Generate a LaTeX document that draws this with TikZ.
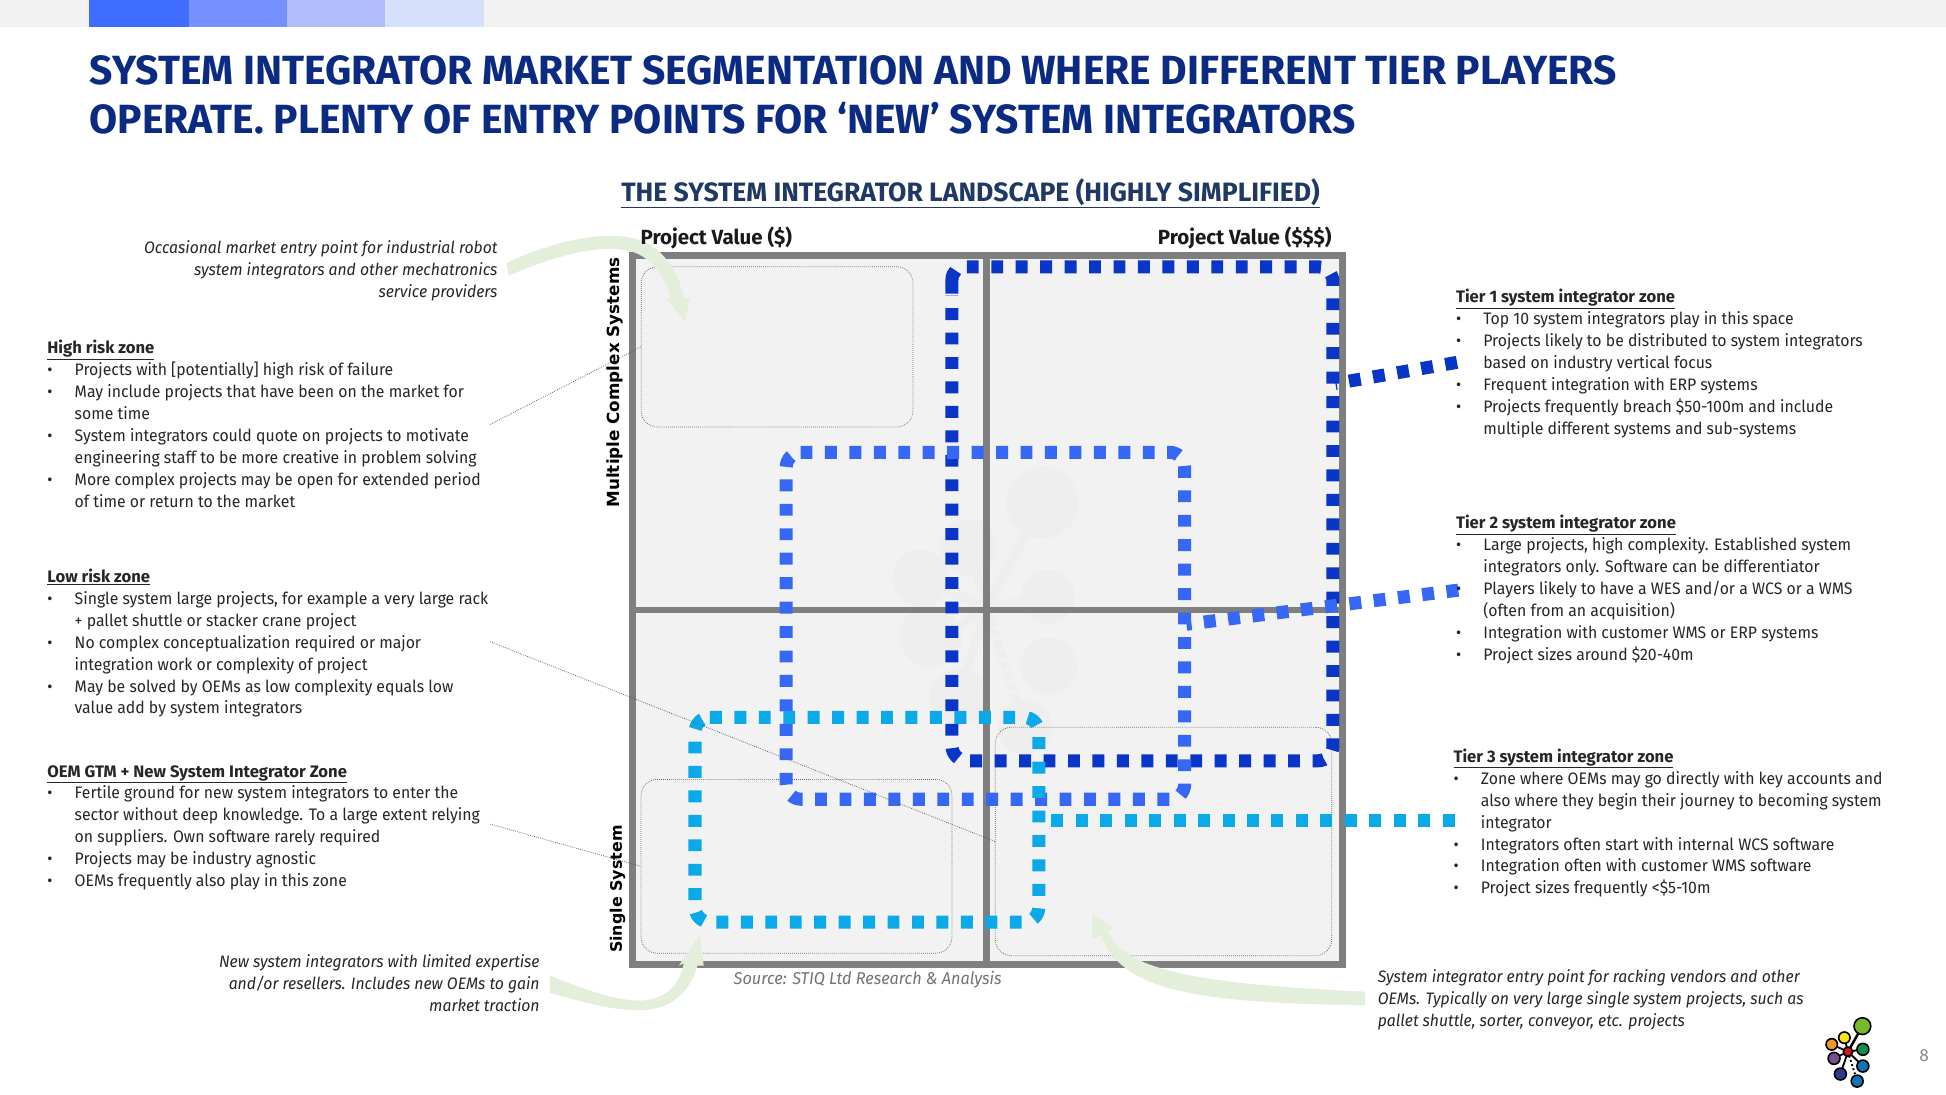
\documentclass[tikz,border=0pt]{standalone}
\usepackage{fontspec}
\setmainfont{Fira Sans}
\newfontfamily\bodyf[FakeStretch=0.95]{Fira Sans}
\newfontfamily\axisf{DejaVu Sans}
\usetikzlibrary{arrows.meta}
\definecolor{tone}{HTML}{0A36C8}
\definecolor{ttwo}{HTML}{3768F5}
\definecolor{tthree}{HTML}{0BA9E8}
\definecolor{titleblue}{HTML}{0B2A82}
\definecolor{subblue}{HTML}{1F3864}
\definecolor{panel}{HTML}{F2F2F2}
\definecolor{frameg}{HTML}{7F7F7F}
\definecolor{arrowg}{HTML}{E3EFDB}
\definecolor{wm}{HTML}{EDEEED}
\definecolor{ba}{HTML}{3F6DFF}\definecolor{bb}{HTML}{7590FF}\definecolor{bc}{HTML}{AFBDFB}\definecolor{bd}{HTML}{D5E1FA}
\definecolor{lga}{HTML}{7AB82E}\definecolor{lgb}{HTML}{F7E51A}\definecolor{lgc}{HTML}{EE9A1E}\definecolor{lgd}{HTML}{7A4E93}\definecolor{lge}{HTML}{2E3A8E}\definecolor{lgf}{HTML}{0F74B8}\definecolor{lgg}{HTML}{0E9146}\definecolor{lgh}{HTML}{D8122A}
\newcommand{\bu}[1]{\makebox[22pt][l]{•}#1}
\newcommand{\cn}[1]{\hspace*{22pt}#1}
\newcommand{\hd}[1]{\strut{\normalfont\bfseries\fontsize{13.4}{17.7}\selectfont\underline{#1}}}
\tikzset{
  body/.style={anchor=north west,inner sep=0pt,align=left,font=\bodyf\fontsize{13.4}{17.7}\selectfont,text=black!85},
  note/.style={inner sep=0pt,font=\bodyf\itshape\fontsize{13.35}{17.7}\selectfont,text=black!85},
  zonebox/.style={draw=black!60,densely dotted,line width=0.6pt,rounded corners=13pt,inner sep=0pt},
  zoneline/.style={line width=10.5pt,dash pattern=on 9.6pt off 10.1pt,rounded corners=12pt},
  leader/.style={draw=black!65,densely dotted,line width=0.6pt},
  gridline/.style={draw=frameg,line width=5.5pt},
  logolink/.style={line width=1.5pt,draw=black},
  logonode/.style={circle,draw=black,line width=1.3pt,inner sep=0pt},
  wmnode/.style={circle,fill=wm,inner sep=0pt}
}
\begin{document}
\begin{tikzpicture}[x=1pt,y=-1pt]
\useasboundingbox (0,0) rectangle (1568,882.3);
\fill[white] (0,0) rectangle (1568,882.3);
% top band
\fill[panel] (0,0) rectangle (1568,22);
\fill[ba] (72,0) rectangle (152,22);
\fill[bb] (152,0) rectangle (231,22);
\fill[bc] (231,0) rectangle (310,22);
\fill[bd] (310,0) rectangle (390,22);
% titles
\node (title) [anchor=north west,inner sep=0pt,align=left,text=titleblue,font=\bfseries\fontsize{32.85}{39.5}\selectfont] at (72,40) {\strut SYSTEM INTEGRATOR MARKET SEGMENTATION AND WHERE DIFFERENT TIER PLAYERS\\OPERATE. PLENTY OF ENTRY POINTS FOR ‘NEW’ SYSTEM INTEGRATORS};
\node (subtitle) [inner sep=0pt,text=subblue,font=\bfseries\fontsize{21.4}{24}\selectfont] at (782,156) {\underline{THE SYSTEM INTEGRATOR LANDSCAPE (HIGHLY SIMPLIFIED)}};
% matrix
\fill[panel] (507,203) rectangle (1084.5,780);
% watermark
\draw[wm,line width=7pt] (795,490) -- (840,405);
\draw[wm,line width=7pt] (795,490) -- (760,513) (795,490) -- (742,466) (795,490) -- (780,441) (795,490) -- (844,481) (795,490) -- (772,561);
\draw[wm,line width=7pt,dotted] (795,490) -- (826,586);
\node[wmnode,minimum size=58pt] (w1) at (840,405) {};
\node[wmnode,minimum size=46pt] (w2) at (742,466) {};
\node[wmnode,minimum size=44pt] (w3) at (844,481) {};
\node[wmnode,minimum size=46pt] (w4) at (780,441) {};
\node[wmnode,minimum size=50pt] (w5) at (750,513) {};
\node[wmnode,minimum size=46pt] (w6) at (845,537) {};
\node[wmnode,minimum size=46pt] (w7) at (772,561) {};
\node[wmnode,minimum size=44pt] (w8) at (826,586) {};
% grid
\draw[gridline] (509.7,205.7) rectangle (1081.8,777.3);
\draw[gridline] (795,205) -- (795,778);
\draw[gridline] (509,491.5) -- (1082,491.5);
% zones
\node[zonebox,minimum width=219pt,minimum height=129pt] (zoneA) at (626.1,279.5) {};
\node[zonebox,minimum width=250.5pt,minimum height=140pt] (zoneB) at (641.8,698) {};
\node[zonebox,minimum width=271pt,minimum height=184pt] (zoneC) at (937.5,678) {};
% tier loops
\draw[zoneline,tone] (779,215) -- (1074,215) -- (1074,613) -- (767,613) -- (767,238);
\draw[tone,line width=10.5pt] (767,236.5) -- (767,226) .. controls (767,222.5) and (768,220) .. (770,218);
\draw[zoneline,ttwo] (645,364.5) -- (954.5,364.5) -- (954.5,644) -- (633.5,644) -- (633.5,364.5) -- (645,364.5);
\draw[zoneline,tthree] (572,578) -- (837,578) -- (837,743) -- (560,743) -- (560,578) -- (572,578);
% tier connectors
\coordinate (t1a) at (1076,309);
\coordinate (t1b) at (1174,292);
\coordinate (t2a) at (956,503);
\coordinate (t2b) at (1175,475.5);
\coordinate (t3a) at (838,661);
\coordinate (t3b) at (1172,661);
\draw[tone,line width=10.5pt,dash pattern=on 9.6pt off 10.1pt] (t1b) -- (t1a);
\draw[ttwo,line width=10.5pt,dash pattern=on 9.6pt off 10.1pt] (t2b) -- (t2a);
\draw[tthree,line width=10.5pt,dash pattern=on 9.6pt off 10.1pt] (t3b) -- (t3a);
% green arrows
\fill[arrowg] (408,212) .. controls (450,192) and (500,182) .. (525,198) .. controls (540,208) and (548,225) .. (551,240) -- (556,240) -- (552,259) -- (537,241) -- (541,240) .. controls (535,222) and (525,208) .. (510,203) .. controls (485,196) and (450,205) .. (410,222) -- cycle;
\fill[arrowg] (443,786) .. controls (470,797) and (500,808) .. (520,806) .. controls (538,804) and (548,792) .. (551,776) -- (547,778) -- (564,753) -- (567,778) -- (562,778) .. controls (556,800) and (540,814) .. (515,814) .. controls (490,814) and (465,806) .. (443,800) -- cycle;
\fill[arrowg] (880,736) -- (897,748) -- (892,750) .. controls (905,775) and (935,792) .. (1100,799) -- (1100,810) .. controls (960,808) and (905,798) .. (887,754) -- (880,757) -- cycle;
% labels on the matrix
\node (pvl) [anchor=west,inner sep=0pt,font=\fontsize{16.5}{18}\selectfont\bfseries,text=black!90] at (516,192) {Project Value (\$)};
\node (pvr) [anchor=east,inner sep=0pt,font=\fontsize{16.5}{18}\selectfont\bfseries,text=black!90] at (1073,192) {Project Value (\$\$\$)};
\node (mcs) [rotate=90,anchor=west,inner sep=0pt,font=\axisf\bfseries\fontsize{13.5}{16}\selectfont] at (495.5,409) {Multiple Complex Systems};
\node (sgs) [rotate=90,anchor=west,inner sep=0pt,font=\axisf\bfseries\fontsize{12.8}{16}\selectfont] at (497.5,768) {Single System};
\node (src) [anchor=west,inner sep=0pt,text=black!55,font=\bodyf\itshape\fontsize{13.8}{15}\selectfont] at (591,789) {Source: STIQ Ltd Research \& Analysis};
% left text
\node[note,anchor=north east,align=right] (n1) at (401,192) {\strut Occasional market entry point for industrial robot\\system integrators and other mechatronics\\service providers};
\node[note,anchor=north east,align=right] (n2) at (435,767) {\strut New system integrators with limited expertise\\and/or resellers. Includes new OEMs to gain\\market traction};
\node[note,anchor=north west,align=left] (n3) at (1110,779) {\strut System integrator entry point for racking vendors and other\\OEMs. Typically on very large single system projects, such as\\pallet shuttle, sorter, conveyor, etc. projects};
\node[body] (high) at (38,272.5) {\hd{High risk zone}\\
\bu{Projects with [potentially] high risk of failure}\\
\bu{May include projects that have been on the market for}\\
\cn{some time}\\
\bu{System integrators could quote on projects to motivate}\\
\cn{engineering staff to be more creative in problem solving}\\
\bu{More complex projects may be open for extended period}\\
\cn{of time or return to the market}};
\node[body] (low) at (38,456.5) {\hd{Low risk zone}\\
\bu{Single system large projects, for example a very large rack}\\
\cn{+ pallet shuttle or stacker crane project}\\
\bu{No complex conceptualization required or major}\\
\cn{integration work or complexity of project}\\
\bu{May be solved by OEMs as low complexity equals low}\\
\cn{value add by system integrators}};
\node[body] (oem) at (38,613.5) {\hd{OEM GTM + New System Integrator Zone}\\
\bu{Fertile ground for new system integrators to enter the}\\
\cn{sector without deep knowledge. To a large extent relying}\\
\cn{on suppliers. Own software rarely required}\\
\bu{Projects may be industry agnostic}\\
\bu{OEMs frequently also play in this zone}};
\node[body] (tier1) at (1173,231.5) {\hd{Tier 1 system integrator zone}\\
\bu{Top 10 system integrators play in this space}\\
\bu{Projects likely to be distributed to system integrators}\\
\cn{based on industry vertical focus}\\
\bu{Frequent integration with ERP systems}\\
\bu{Projects frequently breach \$50-100m and include}\\
\cn{multiple different systems and sub-systems}};
\node[body] (tier2) at (1173,413.5) {\hd{Tier 2 system integrator zone}\\
\bu{Large projects, high complexity. Established system}\\
\cn{integrators only. Software can be differentiator}\\
\bu{Players likely to have a WES and/or a WCS or a WMS}\\
\cn{(often from an acquisition)}\\
\bu{Integration with customer WMS or ERP systems}\\
\bu{Project sizes around \$20-40m}};
\node[body] (tier3) at (1171,601.5) {\hd{Tier 3 system integrator zone}\\
\bu{Zone where OEMs may go directly with key accounts and}\\
\cn{also where they begin their journey to becoming system}\\
\cn{integrator}\\
\bu{Integrators often start with internal WCS software}\\
\bu{Integration often with customer WMS software}\\
\bu{Project sizes frequently <\$5-10m}};
% leaders
\coordinate (l1) at (395,342);
\coordinate (l2) at (395,517);
\coordinate (l3) at (395,664);
\draw[leader] (l1) -- (zoneA.west);
\draw[leader] (l2) -- (zoneC.west);
\draw[leader] (l3) -- (zoneB.west);
% logo
\coordinate (lc) at (1489,847.4);
\draw[logolink,line width=2pt] (lc) -- (1500.6,826.8);
\draw[logolink] (lc) -- (1486.1,836.1) (lc) -- (1475.9,841.5) (lc) -- (1477.8,852.8) (lc) -- (1482.9,865.4) (lc) -- (1501,859) (lc) -- (1501,845.5);
\draw[logolink,dotted] (lc) -- (1496.4,871.1);
\node[logonode,fill=lga,minimum size=13.5pt] (g1) at (1500.6,826.8) {};
\node[logonode,fill=lgb,minimum size=9.2pt] (g2) at (1486.1,836.1) {};
\node[logonode,fill=lgc,minimum size=9.2pt] (g3) at (1475.9,841.5) {};
\node[logonode,fill=lgd,minimum size=9.6pt] (g4) at (1477.8,852.8) {};
\node[logonode,fill=lge,minimum size=9.6pt] (g5) at (1482.9,865.4) {};
\node[logonode,fill=lgf,minimum size=9.6pt] (g6) at (1496.4,871.1) {};
\node[logonode,fill=lgf,minimum size=9.6pt] (g7) at (1501,859) {};
\node[logonode,fill=lgg,minimum size=9.6pt] (g8) at (1501,845.5) {};
\node[logonode,fill=lgh,minimum size=7.5pt] (g9) at (lc) {};
\node (pg) [inner sep=0pt,text=black!45,font=\fontsize{14}{16}\selectfont] at (1550.4,851) {8};
\end{tikzpicture}
\end{document}
